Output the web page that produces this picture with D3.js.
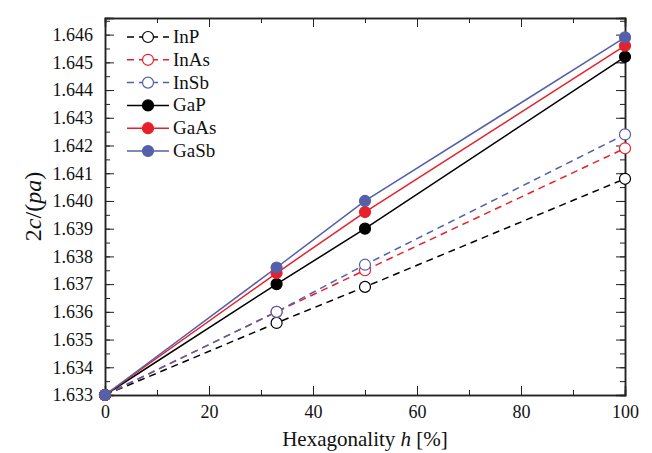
<!DOCTYPE html>
<html>
<head>
<meta charset="utf-8">
<script src="https://cdn.jsdelivr.net/npm/d3@7"></script>
<style>
  body { margin: 0; background: #fff; }
</style>
</head>
<body>
<div id="chart"></div>
<script>
// data
const hex = [0, 33, 50, 100];
const names = ["InP", "InAs", "InSb", "GaP", "GaAs", "GaSb"];
const InP  = [1.6330, 1.6356, 1.6369, 1.6408];
const InAs = [1.6330, 1.6360, 1.6375, 1.6419];
const InSb = [1.6330, 1.6360, 1.6377, 1.6424];
const GaP  = [1.6330, 1.6370, 1.6390, 1.6452];
const GaAs = [1.6330, 1.6374, 1.6396, 1.6456];
const GaSb = [1.6330, 1.6376, 1.6400, 1.6459];
const yTicks = d3.range(1.633, 1.6465, 0.001);
const xTicks = [0, 20, 40, 60, 80, 100];

const FONT = "'Liberation Serif', 'Times New Roman', serif";
const colors = ["#000", "#e8202a", "#5560a8", "#000", "#e8202a", "#5560a8"];
const series = [InP, InAs, InSb, GaP, GaAs, GaSb].map((v, i) => ({
    name: names[i],
    color: colors[i],
    open: i < 3,
    values: v.map((y, j) => ({h: hex[j], y: y}))
}));

const margin = {top: 18, right: 27, bottom: 58, left: 105},
      width = 652 - margin.left - margin.right,
      height = 453 - margin.top - margin.bottom;

const svg = d3.select("#chart").append("svg")
    .attr("width", 652)
    .attr("height", 453)
    .append("g")
    .attr("transform", `translate(${margin.left},${margin.top})`);

const x = d3.scaleLinear().domain([0, 100]).range([0, width]);
const y = d3.scaleLinear().domain([1.633, 1.6466]).range([height, 0]);

// axes with inward ticks
const minorX = d3.range(0, 101, 10);
const minorY = d3.range(1.633, 1.6466, 0.0005);

svg.append("g")
    .attr("transform", `translate(0,${height})`)
    .call(d3.axisBottom(x).tickValues(minorX).tickSize(-5).tickFormat(""));
svg.append("g")
    .attr("transform", `translate(0,${height})`)
    .call(d3.axisBottom(x).tickValues(xTicks).tickSize(-9).tickPadding(10).tickFormat(d3.format("d")));
svg.append("g")
    .call(d3.axisTop(x).tickValues(minorX).tickSize(-5).tickFormat(""));
svg.append("g")
    .call(d3.axisTop(x).tickValues(xTicks).tickSize(-9).tickFormat(""));

svg.append("g")
    .call(d3.axisLeft(y).tickValues(minorY).tickSize(-5).tickFormat(""));
svg.append("g")
    .call(d3.axisLeft(y).tickValues(yTicks).tickSize(-9).tickPadding(12).tickFormat(d3.format(".3f")));
svg.append("g")
    .attr("transform", `translate(${width},0)`)
    .call(d3.axisRight(y).tickValues(minorY).tickSize(-5).tickFormat(""));
svg.append("g")
    .attr("transform", `translate(${width},0)`)
    .call(d3.axisRight(y).tickValues(yTicks).tickSize(-9).tickFormat(""));

svg.selectAll(".domain").attr("stroke", "#222").attr("stroke-width", 1.5);
svg.selectAll(".tick line").attr("stroke", "#222").attr("stroke-width", 1);
svg.selectAll(".tick text")
    .attr("font-size", 18)
    .attr("font-family", FONT)
    .attr("fill", "#111");

// lines
const line = d3.line().x(d => x(d.h)).y(d => y(d.y));
const g = svg.append("g");
series.forEach(s => {
    g.append("path")
        .datum(s.values)
        .attr("fill", "none")
        .attr("stroke", s.color)
        .attr("stroke-width", 1.5)
        .attr("stroke-dasharray", s.open ? "7,5" : null)
        .attr("d", line);
});
series.forEach(s => {
    g.selectAll(null)
        .data(s.values)
        .enter().append("circle")
        .attr("cx", d => x(d.h))
        .attr("cy", d => y(d.y))
        .attr("r", 5.5)
        .attr("fill", s.open ? "#fff" : s.color)
        .attr("stroke", s.color)
        .attr("stroke-width", 1.2);
});

// legend
const legend = svg.append("g").attr("transform", "translate(22,19)");
series.forEach((s, i) => {
    const row = legend.append("g").attr("transform", `translate(0,${i * 22.8})`);
    row.append("line")
        .attr("x1", 0).attr("x2", 42)
        .attr("stroke", s.color).attr("stroke-width", 1.5)
        .attr("stroke-dasharray", s.open ? "7,5" : null);
    row.append("circle")
        .attr("cx", 21).attr("r", 5.5)
        .attr("fill", s.open ? "#fff" : s.color)
        .attr("stroke", s.color).attr("stroke-width", 1.2);
    row.append("text")
        .attr("x", 46).attr("y", 6)
        .attr("font-size", 19)
        .attr("font-family", FONT)
        .attr("fill", "#111")
        .text(s.name);
});

// axis titles
const xt = svg.append("text")
    .attr("x", width / 2)
    .attr("y", height + 51)
    .attr("text-anchor", "middle")
    .attr("font-size", 21)
    .attr("font-family", FONT)
    .attr("fill", "#111");
xt.append("tspan").text("Hexagonality ");
xt.append("tspan").attr("font-style", "italic").text("h");
xt.append("tspan").text(" [%]");

const yt = svg.append("text")
    .attr("transform", `translate(${-64},${height / 2}) rotate(-90)`)
    .attr("text-anchor", "middle")
    .attr("font-size", 24)
    .attr("font-family", FONT)
    .attr("fill", "#111");
yt.append("tspan").text("2");
yt.append("tspan").attr("font-style", "italic").text("c");
yt.append("tspan").text("/(");
yt.append("tspan").attr("font-style", "italic").text("pa");
yt.append("tspan").text(")");
</script>
</body>
</html>
